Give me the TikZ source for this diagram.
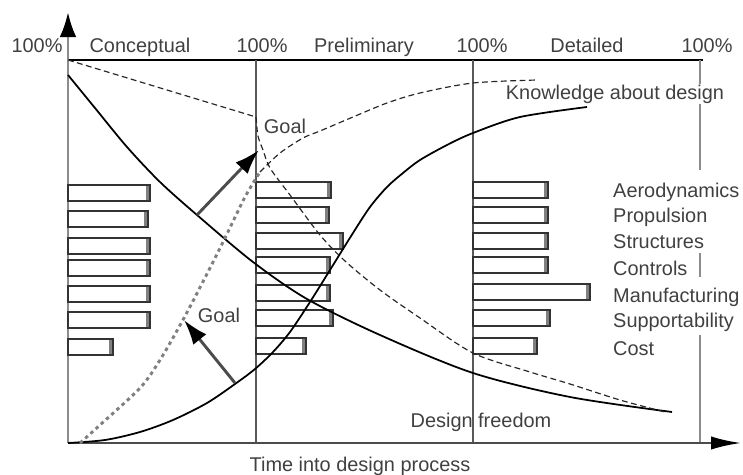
\documentclass[tikz,border=0pt]{standalone}
\usepackage{fontspec}
\setmainfont{Liberation Sans}
\usetikzlibrary{arrows.meta}

\tikzset{
  phaseline/.style={line width=2.5pt, black!65},
  barbox/.style={draw=black!80, line width=1.4pt},
  lbltext/.style={text=black!75, font=\fontsize{17}{20}\selectfont, inner sep=1pt},
  sidelbl/.style={lbltext, anchor=base west, inner sep=0pt},
  goalarrow/.style={black!70, line width=2.5pt, -{Latex[length=7.5mm,width=5mm,color=black]}},
}

\begin{document}
\begin{tikzpicture}[x=0.03cm,y=-0.03cm]
      \useasboundingbox (0,0) rectangle (743,475);

      % phase lines
      \coordinate (t0) at (68,60);
      \coordinate (t3) at (703,60);
      \draw[black, line width=2.5pt] (t0) -- (t3);
      \foreach \x in {256, 473}
        \draw[phaseline] (\x,60) -- (\x,443);
      \foreach \a/\b in {60/84, 104/170, 253/277, 335/443}
        \draw[phaseline, black!45] (700,\a) -- (700,\b);

      % axes
      \coordinate (o) at (68,443);
      \coordinate (ytip) at (68,12);
      \coordinate (xtip) at (741,443);
      \draw[black!45, line width=2.5pt, -{Latex[length=7.5mm,width=5mm,color=black]}] (o) -- (ytip);
      \draw[black!70, line width=2pt, -{Latex[length=9mm,width=4mm,color=black]}] (o) -- (xtip);

      % phase texts
      \node[lbltext, anchor=base] (pc0) at (37,53) {100\%};
      \node[lbltext, anchor=base] (conc) at (140,53) {Conceptual};
      \node[lbltext, anchor=base] (pc1) at (262,53) {100\%};
      \node[lbltext, anchor=base] (prel) at (364,53) {Preliminary};
      \node[lbltext, anchor=base] (pc2) at (482,53) {100\%};
      \node[lbltext, anchor=base] (det) at (587,53) {Detailed};
      \node[lbltext, anchor=base] (pc3) at (707,53) {100\%};

      % bars conceptual
      \foreach \y/\r in {193/150, 219/148, 246/150, 268/150, 294/150, 320/150, 347/113} {
        \draw[barbox] (68,\y-8) rectangle (\r,\y+8);
        \fill[black!50] (\r-4,\y-7) rectangle (\r-1,\y+7);
      }
      % bars preliminary
      \foreach \y/\r in {190/331, 215/329, 241/343, 265/330, 293/330, 318/333, 346/306} {
        \draw[barbox] (256,\y-8) rectangle (\r,\y+8);
        \fill[black!50] (\r-4,\y-7) rectangle (\r-1,\y+7);
      }
      % bars detailed
      \foreach \y/\r in {190/548, 215/548, 241/548, 265/548, 292/590, 318/550, 346/537} {
        \draw[barbox] (473,\y-8) rectangle (\r,\y+8);
        \fill[black!50] (\r-4,\y-7) rectangle (\r-1,\y+7);
      }

      % discipline texts
      \node[sidelbl] (aero) at (613,197) {Aerodynamics};
      \node[sidelbl] (prop) at (613,222) {Propulsion};
      \node[sidelbl] (struc) at (613,248) {Structures};
      \node[sidelbl] (ctrl) at (613,275) {Controls};
      \node[sidelbl] (manu) at (613,302) {Manufacturing};
      \node[sidelbl] (supp) at (613,327) {Supportability};
      \node[sidelbl] (cost) at (613,355) {Cost};
      \node[lbltext, anchor=base] (know) at (615,99) {Knowledge about design};

      % design freedom
      \draw[black, line width=1.5pt] plot[smooth] coordinates {(68,75) (95,108) (127,147) (160,182)
        (197,215) (253,262) (307,299) (380,335) (473,373) (570,397) (672,412)};
      \draw[black!85, line width=1pt, dash pattern=on 5pt off 3pt] (t0) -- (256,117);
      \draw[black!85, line width=1pt, dash pattern=on 5pt off 3pt] plot[smooth] coordinates {(256,117)
        (258,136) (263,150) (270,168) (290,195) (320,235) (345,261) (380,290) (420,318) (473,353)
        (530,372) (570,384) (620,400) (665,412)};

      % knowledge
      \draw[black, line width=1.5pt] plot[smooth] coordinates {(68,443) (105,440) (140,432) (173,420)
        (207,403) (235,384) (255,369) (273,352) (290,332) (310,302) (330,270) (353,233) (370,207)
        (387,187) (403,173) (420,160) (447,145) (473,133) (520,117) (587,107)};
      \draw[black!50, line width=2.5pt, dash pattern=on 3pt off 3pt] plot[smooth] coordinates {(80,443)
        (100,425) (140,388) (160,360) (184,318) (210,268) (225,238) (245,197) (260,172)};
      \draw[black!85, line width=1pt, dash pattern=on 5pt off 3pt] plot[smooth] coordinates {(260,172)
        (280,153) (303,138) (320,131) (353,117) (387,103) (420,93) (473,83) (537,80)};

      % goals
      \coordinate (g1s) at (197,215);
      \coordinate (g1e) at (259,150);
      \coordinate (g2s) at (235,383);
      \coordinate (g2e) at (184,320);
      \draw[goalarrow] (g1s) -- (g1e);
      \draw[goalarrow] (g2s) -- (g2e);
      \node[lbltext] (goalup) at (285,126) {Goal};
      \node[lbltext] (goallow) at (219,315) {Goal};

      % axis texts
      \node[lbltext, anchor=base] (free) at (481,427) {Design freedom};
      \node[lbltext, anchor=base] (time) at (360,471) {Time into design process};
    \end{tikzpicture}
\end{document}
